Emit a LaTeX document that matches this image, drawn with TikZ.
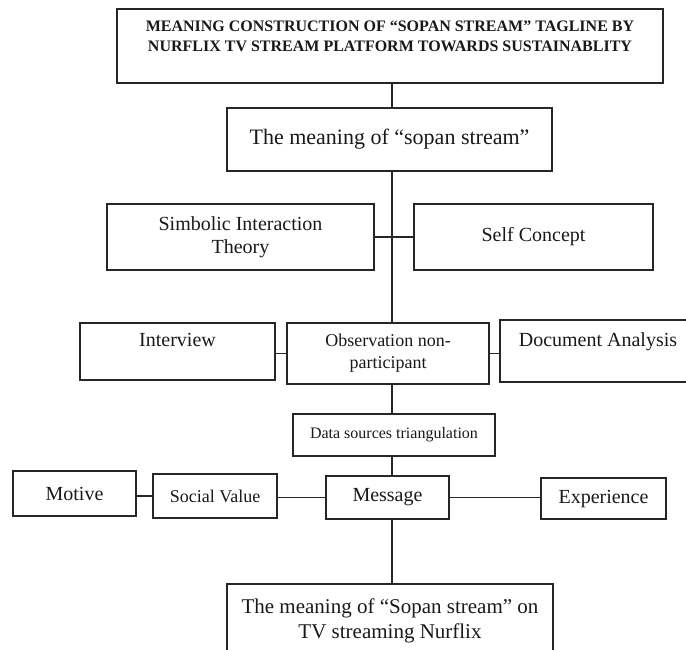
\documentclass[tikz,border=0pt]{standalone}
\usepackage{fontspec}
\setmainfont{Liberation Serif}

\begin{document}
\begin{tikzpicture}[
        x=1pt, y=-1pt,
        box/.style={
                rectangle,
                draw=black!85,
                line width=1.4pt,
                inner sep=0pt,
                align=center,
                text=black!90,
                font=\fontsize{20}{23}\selectfont
            },
        head/.style={font=\bfseries\fontsize{16}{20}\selectfont},
        small/.style={font=\fontsize{18}{22}\selectfont},
        link/.style={draw=black!85, line width=1.4pt}
    ]
    \clip (0,0) rectangle (686,649);
    \coordinate (spine) at (392,0);

    \node[box, head, minimum width=546pt, minimum height=74pt] (title) at (390,46)
        {MEANING CONSTRUCTION OF “SOPAN STREAM” TAGLINE BY\\NURFLIX TV STREAM PLATFORM TOWARDS SUSTAINABLITY\\ ~};
    \node[box, font=\fontsize{22}{25}\selectfont, minimum width=325pt, minimum height=63pt] (meaning) at (389.5,139.5)
        {The meaning of “sopan stream”};
    \node[box, minimum width=267pt, minimum height=66pt] (simbolic) at (240.5,237) {Simbolic Interaction\\Theory};
    \node[box, minimum width=239pt, minimum height=66pt] (self)     at (533.5,237) {Self Concept};

    \node[box, minimum width=195pt, minimum height=57pt] (interview)   at (177.5,351.5) {Interview\\ ~};
    \node[box, small, minimum width=202pt, minimum height=61pt] (observation) at (388,353.5) {Observation non-\\participant};
    \node[box, minimum width=196pt, minimum height=62pt] (document)    at (598,351) {Document Analysis\\ ~};

    \node[box, font=\fontsize{16}{20}\selectfont, minimum width=202pt, minimum height=42pt] (data) at (394,435) {Data sources triangulation};

    \node[box, minimum width=123pt, minimum height=45pt] (motive)     at (74.5,493.5) {Motive};
    \node[box, small, minimum width=124pt, minimum height=44pt] (social) at (215,496) {Social Value};
    \node[box, minimum width=123pt, minimum height=43pt] (message)    at (387.5,497.5) {Message};
    \node[box, minimum width=125pt, minimum height=41pt] (experience) at (603.5,498.5) {Experience};

    \node[box, font=\fontsize{21}{25}\selectfont, minimum width=326pt, minimum height=94pt] (final) at (390,631)
        {The meaning of “Sopan stream” on\\TV streaming Nurflix\\ ~};

    \draw[link] (title.south -| spine) -- (meaning.north -| spine);
    \draw[link] (meaning.south -| spine) -- (observation.north -| spine);
    \draw[link] (simbolic.east) -- (self.west);
    \draw[link] (observation.west -| interview.east) -- (observation.west);
    \draw[link] (observation.east) -- (observation.east -| document.west);
    \draw[link] (observation.south -| spine) -- (data.north -| spine);
    \draw[link] (data.south -| spine) -- (message.north -| spine);
    \draw[link] (social.west -| motive.east) -- (social.west);
    \draw[link] (message.west -| social.east) -- (message.west);
    \draw[link] (message.east) -- (message.east -| experience.west);
    \draw[link] (message.south -| spine) -- (final.north -| spine);
\end{tikzpicture}
\end{document}
